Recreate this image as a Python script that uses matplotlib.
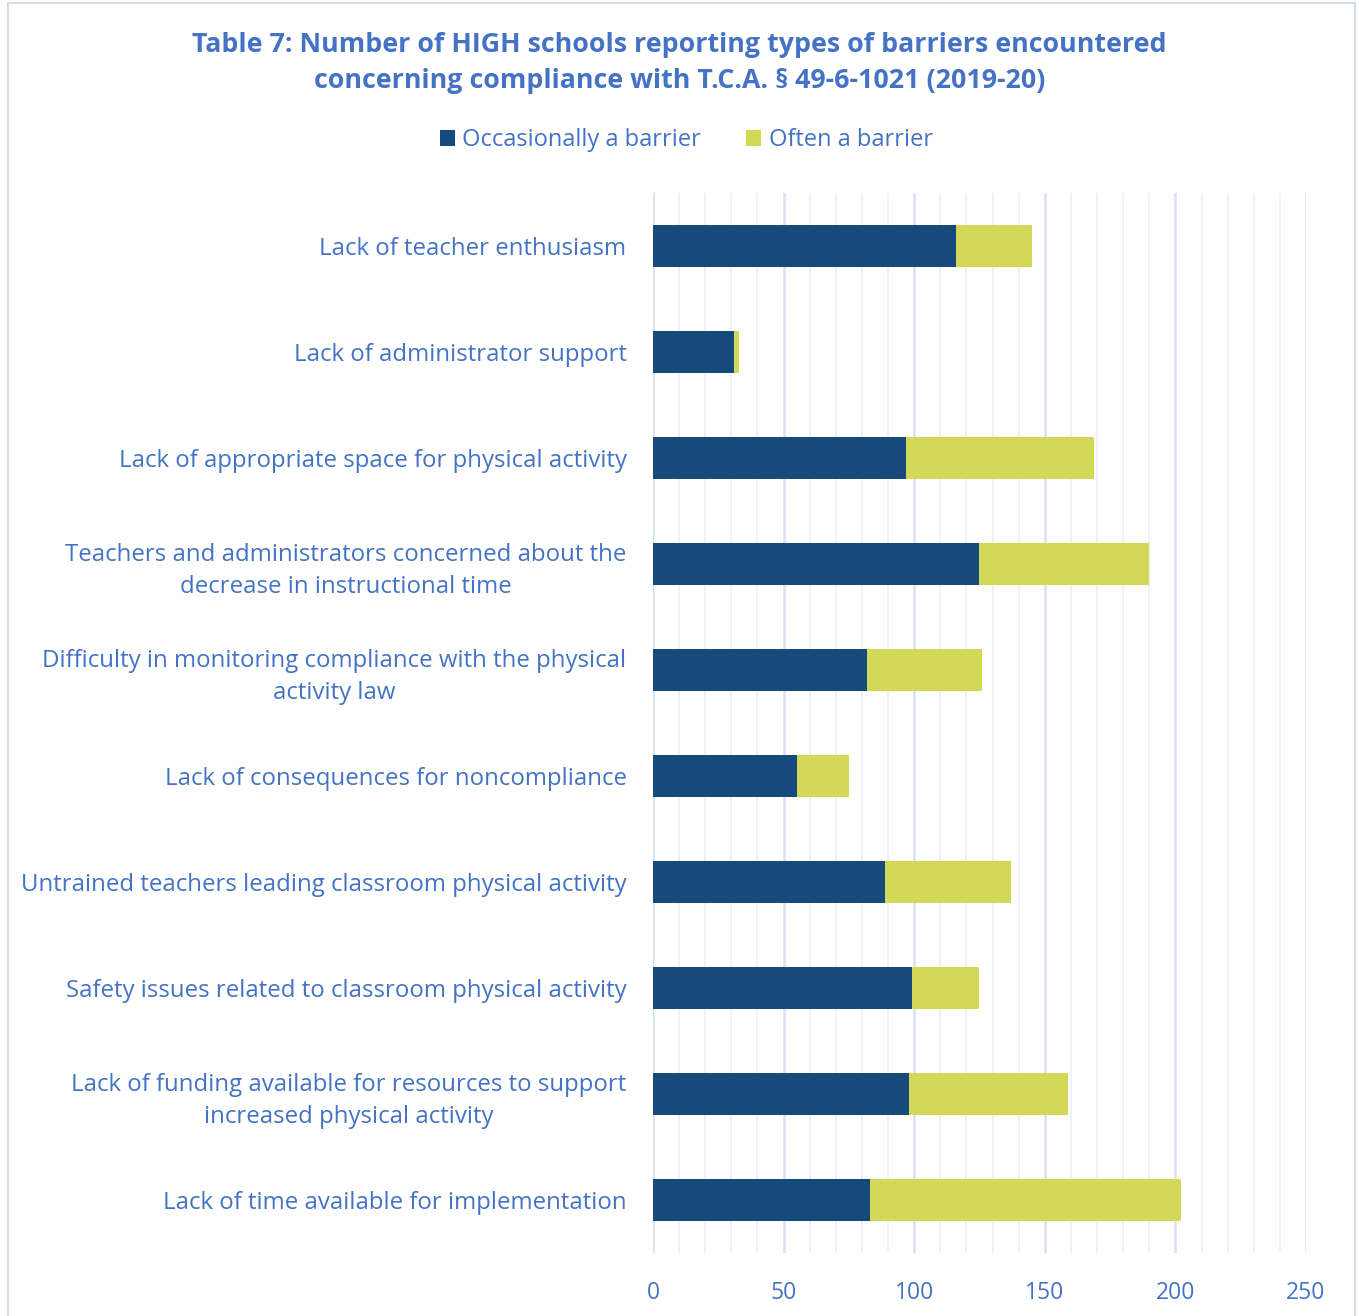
import matplotlib
matplotlib.use("Agg")
import matplotlib.pyplot as plt
from matplotlib.patches import Rectangle
import numpy as np

plt.rcParams['font.family'] = ['Open Sans', 'DejaVu Sans']

categories = [
    "Lack of teacher enthusiasm",
    "Lack of administrator support",
    "Lack of appropriate space for physical activity",
    "Teachers and administrators concerned about the\ndecrease in instructional time",
    "Difficulty in monitoring compliance with the physical\nactivity law",
    "Lack of consequences for noncompliance",
    "Untrained teachers leading classroom physical activity",
    "Safety issues related to classroom physical activity",
    "Lack of funding available for resources to support\nincreased physical activity",
    "Lack of time available for implementation",
]
occasionally = [116, 31, 97, 125, 82, 55, 89, 99, 98, 83]
often = [29, 2, 72, 65, 44, 20, 48, 26, 61, 119]
series_names = ["Occasionally a barrier", "Often a barrier"]
x_ticks = [0, 50, 100, 150, 200, 250]

dark = "#174A7C"
yellow = "#D4D857"
txt = "#4472C4"

fig = plt.figure(figsize=(13.59, 13.16), dpi=100)
ax = fig.add_axes([0.4805, 0.0479, 0.4805, 0.8054])

y = np.arange(len(categories))
ax.barh(y, occasionally, height=0.4, color=dark, label=series_names[0], zorder=3)
ax.barh(y, often, left=occasionally, height=0.4, color=yellow, label=series_names[1], zorder=3)

ax.set_xlim(0, 250)
ax.set_ylim(len(categories) - 0.5, -0.5)
ax.set_xticks(x_ticks)
ax.set_xticks(np.arange(0, 251, 10), minor=True)
ax.grid(True, axis='x', which='minor', color='#EEF3FA', linewidth=1.5, zorder=0)
ax.grid(True, axis='x', which='major', color='#D6E2F3', linewidth=1.8, zorder=1)
ax.set_yticks(y)
ax.set_yticklabels(categories, multialignment='center', linespacing=1.45)
ax.tick_params(axis='y', length=0, pad=19, labelsize=17.3, labelcolor=txt)
ax.tick_params(axis='x', which='both', length=0, pad=20, labelsize=16.5, labelcolor=txt)
for s in ax.spines.values():
    s.set_visible(False)

fig.suptitle("Table 7: Number of HIGH schools reporting types of barriers encountered\n"
             "concerning compliance with T.C.A. § 49-6-1021 (2019-20)",
             x=0.5, y=0.9755, fontsize=19.3, fontweight='bold', color=txt, linespacing=1.5)

leg = fig.legend(loc='center', bbox_to_anchor=(0.505, 0.8935), ncol=2, frameon=False,
                 fontsize=17.0, handlelength=0.65, handleheight=0.65, handletextpad=0.3,
                 columnspacing=1.9)
for t in leg.get_texts():
    t.set_color(txt)

fig.patches.append(Rectangle((0.006, -0.01), 0.991, 1.008, transform=fig.transFigure,
                             fill=False, edgecolor='#D6DCE4', linewidth=1.5))

fig.savefig("out.png", dpi=100)
